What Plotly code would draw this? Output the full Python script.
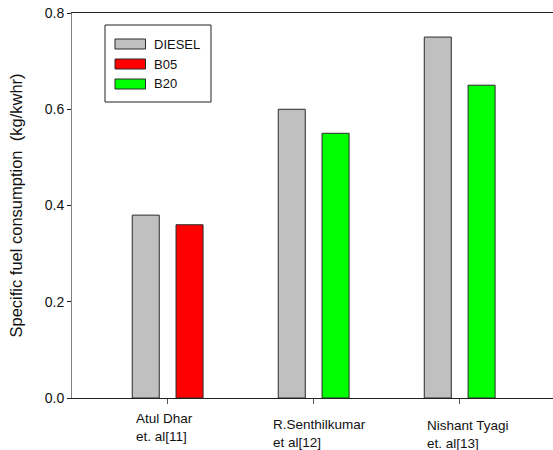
import plotly.graph_objects as go

# ---- data ----
categories = ["Atul Dhar et. al[11]", "R.Senthilkumar et al[12]", "Nishant Tyagi et. al[13]"]
category_labels = ["Atul Dhar<br>et. al[11]", "R.Senthilkumar<br>et al[12]", "Nishant Tyagi<br>et. al[13]"]
diesel_values = [0.38, 0.60, 0.75]
b05_categories = ["Atul Dhar et. al[11]"]
b05_values = [0.36]
b20_categories = ["R.Senthilkumar et al[12]", "Nishant Tyagi et. al[13]"]
b20_values = [0.55, 0.65]
series_names = ["DIESEL", "B05", "B20"]
series_colors = ["#C0C0C0", "#FF0000", "#00FF00"]
y_ticks = [0.0, 0.2, 0.4, 0.6, 0.8]
y_title = "Specific fuel consumption  (kg/kwhr)"

FONT = "Arial, Liberation Sans, sans-serif"
W, H = 553, 450
ML, MR, MT, MB = 72, 0, 13, 52
PW, PH = W - ML - MR, H - MT - MB

def px_x(p):
    return (p - ML) / PW

def px_y(p):
    return (H - MB - p) / PH

bar_w = 0.185
line = dict(color="#2a2a2a", width=1)

fig = go.Figure()
fig.add_trace(go.Bar(x=categories, y=diesel_values, name=series_names[0],
                     marker=dict(color=series_colors[0], line=line),
                     width=bar_w, offset=-0.2425, showlegend=False))
fig.add_trace(go.Bar(x=b05_categories, y=b05_values, name=series_names[1],
                     marker=dict(color=series_colors[1], line=line),
                     width=bar_w, offset=0.0575, showlegend=False))
fig.add_trace(go.Bar(x=b20_categories, y=b20_values, name=series_names[2],
                     marker=dict(color=series_colors[2], line=line),
                     width=bar_w, offset=0.0575, showlegend=False))

# x category labels (staggered, left-aligned lines)
label_shift = [(-34, -11), (-43, -17), (-35, -18)]
annotations = []
for cat, lab, (xs, ys) in zip(categories, category_labels, label_shift):
    annotations.append(dict(x=cat, xref="x", y=0, yref="paper", text=lab,
                            showarrow=False, xanchor="left", yanchor="top",
                            align="left", xshift=xs, yshift=ys,
                            font=dict(family=FONT, size=13.5, color="#111")))

# custom legend
shapes = [dict(type="rect", xref="paper", yref="paper",
               x0=px_x(105), x1=px_x(211), y0=px_y(102), y1=px_y(25),
               line=dict(color="#222", width=1), fillcolor="white", layer="above")]
row_y = [44, 64, 84]
for name, col, ry in zip(series_names, series_colors, row_y):
    shapes.append(dict(type="rect", xref="paper", yref="paper",
                       x0=px_x(115), x1=px_x(145.5), y0=px_y(ry + 5), y1=px_y(ry - 5),
                       line=dict(color="#2a2a2a", width=1), fillcolor=col, layer="above"))
    annotations.append(dict(x=px_x(152), xref="paper", y=px_y(ry), yref="paper",
                            text=name, showarrow=False, xanchor="left", yanchor="middle",
                            font=dict(family=FONT, size=13, color="#111")))

fig.update_layout(
    width=W, height=H,
    margin=dict(l=ML, r=MR, t=MT, b=MB, pad=0),
    paper_bgcolor="white", plot_bgcolor="white",
    barmode="overlay",
    font=dict(family=FONT, size=13, color="#111"),
    shapes=shapes, annotations=annotations,
    xaxis=dict(type="category", categoryorder="array", categoryarray=categories,
               range=[-0.655, 2.639], showticklabels=False,
               ticks="outside", ticklen=5, tickcolor="#555", tickwidth=1,
               showline=True, linecolor="#222", linewidth=1, mirror=True,
               showgrid=False, zeroline=False, fixedrange=True),
    yaxis=dict(range=[0, 0.8], tickvals=y_ticks, tickformat=".1f",
               ticks="outside", ticklen=4, tickcolor="#222", tickwidth=1,
               showline=True, linecolor="#808080", linewidth=1, mirror=False,
               showgrid=False, zeroline=False,
               tickfont=dict(family=FONT, size=14, color="#111"),
               title=dict(text=y_title, standoff=17,
                          font=dict(family=FONT, size=16.5, color="#111"))),
)

fig.write_html("out.html", config={"displayModeBar": False},
               post_script="document.body.style.margin='0';document.body.style.overflow='hidden';")
